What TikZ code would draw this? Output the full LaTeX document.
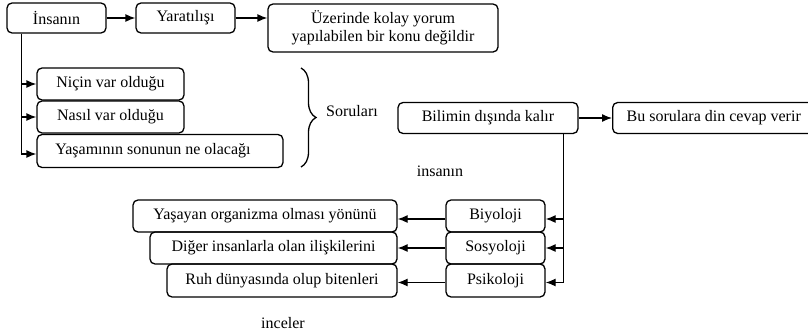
\documentclass[tikz,border=0pt]{standalone}
\usepackage{fontspec}
\setmainfont{Liberation Serif}
\usetikzlibrary{arrows.meta,decorations.pathreplacing}
\begin{document}
\begin{tikzpicture}[x=1pt,y=-1pt,
  box/.style={draw,line width=1.3pt,rounded corners=5pt,inner sep=0pt,font=\fontsize{16}{18}\selectfont,align=center},
  lbl/.style={inner sep=0pt,font=\fontsize{16}{18}\selectfont},
  con/.style={line width=1.3pt,-{Latex[length=10pt,width=8pt]}}]
\clip (0,0) rectangle (808,332);
\fill[white] (0,0) rectangle (808,332);
% top row
\node[box,minimum width=99pt,minimum height=30pt] (insan) at (56.5,18) {İnsanın};
\node[box,minimum width=99pt,minimum height=30pt] (yarat) at (185.5,18) {Yaratılışı};
\node[box,minimum width=230pt,minimum height=48pt] (uzer) at (383,28) {Üzerinde kolay yorum\\yapılabilen bir konu değildir};
% questions
\node[box,minimum width=147pt,minimum height=32pt] (nicin) at (110.5,84) {Niçin var olduğu};
\node[box,minimum width=147pt,minimum height=32pt] (nasil) at (110.5,117) {Nasıl var olduğu};
\node[box,minimum width=246pt,minimum height=33pt] (yasam) at (160,151) {\hspace*{-14pt}Yaşamının sonunun ne olacağı};
\draw[line width=1.3pt,decorate,decoration={brace,amplitude=15pt}] (301,68) -- (301,167);
\node[lbl] (soru) at (352,111) {Soruları};
% science
\node[box,minimum width=180pt,minimum height=31pt] (bilim) at (488,118) {Bilimin dışında kalır};
\node[box,minimum width=200pt,minimum height=31pt,anchor=west,inner xsep=14pt,align=left] (bu) at (612,118) {Bu sorulara din cevap verir\hfill};
\node[lbl] (insanin) at (440,171) {insanın};
% disciplines
\node[box,minimum width=99pt,minimum height=32pt] (biyo) at (495.5,216) {Biyoloji};
\node[box,minimum width=99pt,minimum height=32pt] (sosyo) at (495.5,248) {Sosyoloji};
\node[box,minimum width=99pt,minimum height=33pt] (psiko) at (495.5,280.5) {Psikoloji};
\node[box,minimum width=264pt,minimum height=32pt] (yasayan) at (265,216) {Yaşayan organizma olması yönünü};
\node[box,minimum width=247pt,minimum height=32pt] (diger) at (273.5,248) {Diğer insanlarla olan ilişkilerini};
\node[box,minimum width=230pt,minimum height=33pt] (ruh) at (282,280.5) {Ruh dünyasında olup bitenleri};
\node[lbl] (inceler) at (283,323) {inceler};
% connectors
\draw[con] (insan) -- (yarat);
\draw[con] (yarat) -- (uzer.west |- yarat.east);
\draw[con] ([xshift=15pt]insan.south west) |- (nicin.west);
\draw[con] ([xshift=15pt]insan.south west) |- (nasil.west);
\draw[con] ([xshift=15pt]insan.south west) |- ([yshift=-3pt]yasam.west);
\draw[con] (bilim) -- (bu);
\draw[con] ([xshift=-15pt]bilim.south east) |- ([yshift=-3pt]biyo.east);
\draw[con] ([xshift=-15pt]bilim.south east) |- (sosyo.east);
\draw[con] ([xshift=-15pt]bilim.south east) |- ([yshift=-2pt]psiko.east);
\draw[con] ([yshift=-3pt]biyo.west) -- ([yshift=-3pt]yasayan.east);
\draw[con] (sosyo) -- (diger);
\draw[con] ([yshift=-2pt]psiko.west) -- ([yshift=-2pt]ruh.east);
\end{tikzpicture}
\end{document}
